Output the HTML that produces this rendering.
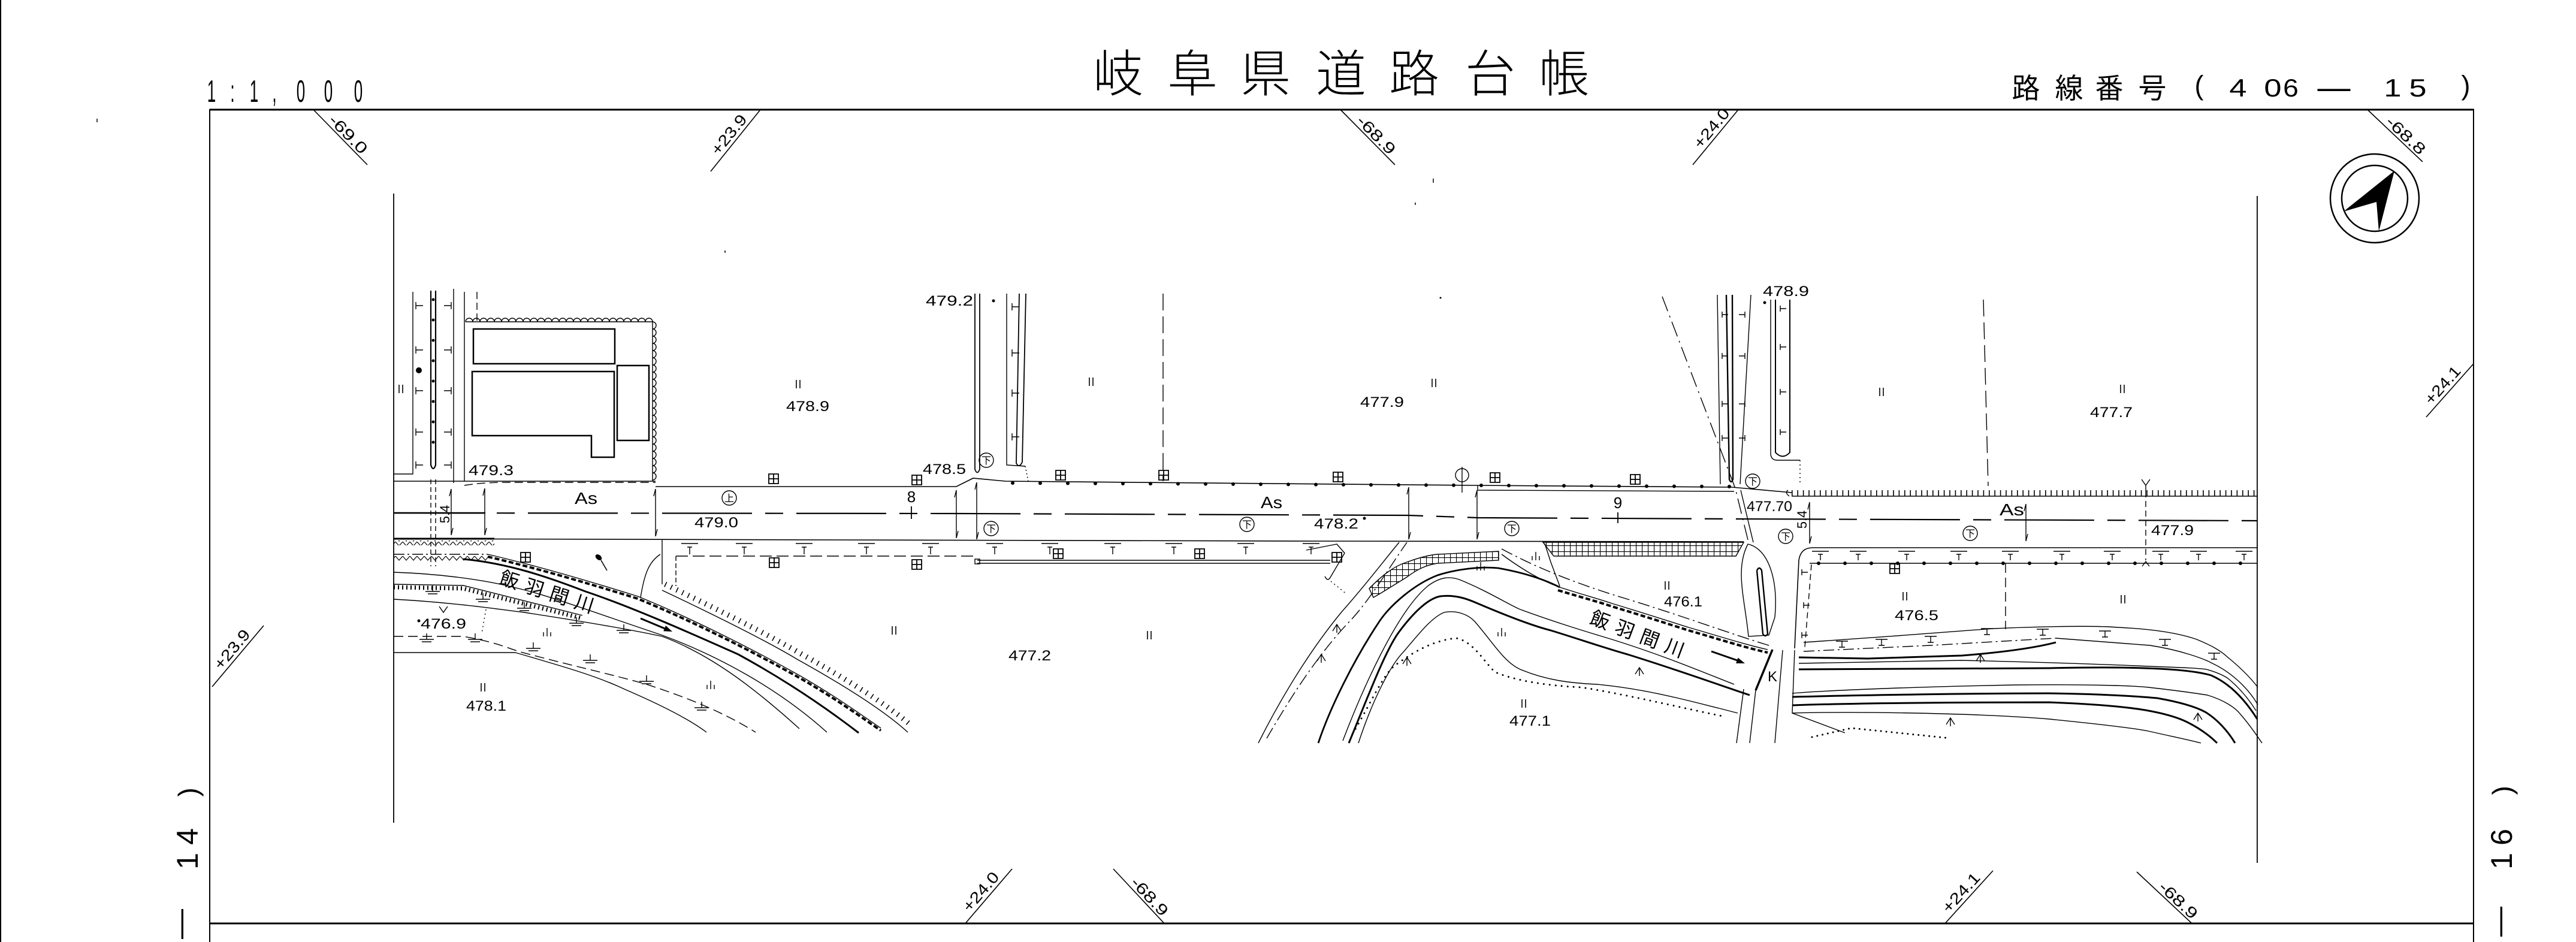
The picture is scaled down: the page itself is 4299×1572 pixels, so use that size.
<!DOCTYPE html>
<html><head><meta charset="utf-8"><title>岐阜県道路台帳</title>
<style>
html,body{margin:0;padding:0;background:#fff;width:4299px;height:1572px;overflow:hidden}
svg{display:block}
text{font-family:"Liberation Sans","Noto Sans CJK JP",sans-serif;fill:#000}
</style></head><body>
<svg xmlns="http://www.w3.org/2000/svg" width="4299" height="1572" viewBox="0 0 4299 1572">
<defs>
<pattern id="grid" patternUnits="userSpaceOnUse" width="10" height="10"><path d="M0,0.5H10M0.5,0V10" stroke="#000" stroke-width="1.2" fill="none"/></pattern>
<pattern id="tri" patternUnits="userSpaceOnUse" width="12" height="8"><path d="M0,0L6,7L12,0" stroke="#000" stroke-width="1.2" fill="none"/></pattern>
</defs>
<rect width="4299" height="1572" fill="#fff"/>

<!-- ===== FRAME ===== -->
<g stroke="#000" fill="none">
<line x1="1" y1="0" x2="1" y2="1572" stroke-width="2"/>
<line x1="350" y1="183" x2="4129" y2="183" stroke-width="3"/>
<line x1="350" y1="1541" x2="4129" y2="1541" stroke-width="3"/>
<line x1="350" y1="182" x2="350" y2="1572" stroke-width="2"/>
<line x1="4128" y1="182" x2="4128" y2="1572" stroke-width="2"/>
<line x1="657" y1="323" x2="657" y2="1373" stroke-width="1.8"/>
<line x1="3767" y1="327" x2="3767" y2="1440" stroke-width="1.8"/>
<path d="M523,183L613,275M1269,183L1186,286M2237,183L2328,275M2901,183L2825,275M3951,183L4043,270" stroke-width="1.6"/>
<path d="M354,1146L440,1044M4128,607L4049,696" stroke-width="1.6"/>
<path d="M1611,1541L1689,1450M1943,1541L1858,1450M3246,1541L3326,1453M3658,1541L3566,1455" stroke-width="1.6"/>
<path d="M162,198v6M2392,298v7M2362,338v4M1210,418v4" stroke-width="1.5"/>
<circle cx="3963" cy="331" r="74" stroke-width="2.5"/>
<circle cx="3963" cy="331" r="55" stroke-width="2.5"/>
</g>
<path d="M3996,285L3911,353L3966,337L3970,386Z" fill="#000"/>

<!-- ===== FRAME TEXT ===== -->
<g font-size="84" text-anchor="middle" font-weight="300">
<text x="1866" y="153">岐</text>
<text x="1990" y="153">阜</text>
<text x="2112" y="153">県</text>
<text x="2238" y="153">道</text>
<text x="2360" y="153">路</text>
<text x="2487" y="153">台</text>
<text x="2610" y="153">帳</text>
</g>
<g font-size="52" text-anchor="middle">
<g transform="translate(353,170) scale(0.5,1)"><text>1</text></g>
<g transform="translate(388,170) scale(0.5,1)"><text>:</text></g>
<g transform="translate(424,170) scale(0.5,1)"><text>1</text></g>
<g transform="translate(458,170) scale(0.5,1)"><text>,</text></g>
<g transform="translate(502,170) scale(0.5,1)"><text>0</text></g>
<g transform="translate(548,170) scale(0.5,1)"><text>0</text></g>
<g transform="translate(598,170) scale(0.5,1)"><text>0</text></g>
</g>
<g text-anchor="middle">
<text x="3381" y="164" font-size="47">路</text>
<text x="3453" y="164" font-size="47">線</text>
<text x="3520" y="164" font-size="47">番</text>
<text x="3592" y="164" font-size="47">号</text>
<text x="3670" y="158" font-size="45">(</text>
<g transform="translate(3735,161) scale(1.25,1)"><text font-size="42">4</text></g>
<g transform="translate(3793,161) scale(1.25,1)"><text font-size="42">0</text></g>
<g transform="translate(3823,161) scale(1.1,1)"><text font-size="42">6</text></g>
<text x="3895" y="164" font-size="55">—</text>
<g transform="translate(3993,161) scale(1.25,1)"><text font-size="42">1</text></g>
<g transform="translate(4035,161) scale(1.25,1)"><text font-size="42">5</text></g>
<text x="4115" y="158" font-size="45">)</text>
</g>
<g transform="translate(308,0) rotate(-90)" text-anchor="middle">
<text x="-1322" y="22" font-size="46">)</text>
<text x="-1396" y="22" font-size="50">4</text>
<text x="-1437" y="22" font-size="50">1</text>
<text x="-1542" y="9" font-size="50">—</text>
</g>
<g transform="translate(4172,0) rotate(-90)" text-anchor="middle">
<text x="-1319" y="20" font-size="46">)</text>
<text x="-1397" y="20" font-size="50">6</text>
<text x="-1437" y="20" font-size="50">1</text>
<text x="-1538" y="15" font-size="50">—</text>
</g>
<g font-size="26">
<text transform="translate(523,183) rotate(45.6)" x="30" y="-4" textLength="80" lengthAdjust="spacingAndGlyphs">-69.0</text>
<text transform="translate(1186,286) rotate(-51.1)" x="28" y="-6" textLength="78" lengthAdjust="spacingAndGlyphs">+23.9</text>
<text transform="translate(2237,183) rotate(45.3)" x="32" y="-4" textLength="80" lengthAdjust="spacingAndGlyphs">-68.9</text>
<text transform="translate(2825,275) rotate(-50.4)" x="28" y="-6" textLength="78" lengthAdjust="spacingAndGlyphs">+24.0</text>
<text transform="translate(3951,183) rotate(43.4)" x="36" y="-4" textLength="80" lengthAdjust="spacingAndGlyphs">-68.8</text>
<text transform="translate(354,1146) rotate(-49.9)" x="30" y="-6" textLength="78" lengthAdjust="spacingAndGlyphs">+23.9</text>
<text transform="translate(4049,696) rotate(-48.4)" x="20" y="-6" textLength="76" lengthAdjust="spacingAndGlyphs">+24.1</text>
<text transform="translate(1611,1541) rotate(-49.4)" x="18" y="-6" textLength="78" lengthAdjust="spacingAndGlyphs">+24.0</text>
<text transform="translate(1858,1450) rotate(47)" x="36" y="-4" textLength="78" lengthAdjust="spacingAndGlyphs">-68.9</text>
<text transform="translate(3246,1541) rotate(-47.7)" x="16" y="-6" textLength="80" lengthAdjust="spacingAndGlyphs">+24.1</text>
<text transform="translate(3566,1455) rotate(43.1)" x="44" y="-4" textLength="78" lengthAdjust="spacingAndGlyphs">-68.9</text>
</g>

<!-- ===== MAP ===== -->
<g stroke="#000" fill="none" stroke-width="1.4">
<path d="M689,487V791H657"/>
<path d="M719,485V776Q723,788 727,776V485" stroke-width="2.2"/>
<path d="M723,500V770" stroke-width="5" stroke-dasharray="0 34" stroke-linecap="round"/>
<path d="M757,482V806"/>
<path d="M775,487V803"/>
<path d="M796,487V535" stroke-dasharray="12 6"/>
<path d="M719,800V945M727,800V945" stroke-dasharray="8 5"/>
<path d="M694,504v12M694,510h12M694,578v12M694,584h12M694,646v12M694,652h12M694,715v12M694,721h12M694,770v12M694,776h12"/>
<path d="M753,504v12M741,510h12M753,578v12M741,584h12M753,646v12M741,652h12M753,715v12M741,721h12M753,770v12M741,776h12"/>
<path d="M777,537H1089V803"/>
<path d="M777,537a6,6 0 0 1 12,0a6,6 0 0 1 12,0a6,6 0 0 1 12,0a6,6 0 0 1 12,0a6,6 0 0 1 12,0a6,6 0 0 1 12,0a6,6 0 0 1 12,0a6,6 0 0 1 12,0a6,6 0 0 1 12,0a6,6 0 0 1 12,0a6,6 0 0 1 12,0a6,6 0 0 1 12,0a6,6 0 0 1 12,0a6,6 0 0 1 12,0a6,6 0 0 1 12,0a6,6 0 0 1 12,0a6,6 0 0 1 12,0a6,6 0 0 1 12,0a6,6 0 0 1 12,0a6,6 0 0 1 12,0a6,6 0 0 1 12,0a6,6 0 0 1 12,0a6,6 0 0 1 12,0a6,6 0 0 1 12,0a6,6 0 0 1 12,0a6,6 0 0 1 12,0"/>
<path d="M1089,537a6,6 0 0 1 0,12a6,6 0 0 1 0,12a6,6 0 0 1 0,12a6,6 0 0 1 0,12a6,6 0 0 1 0,12a6,6 0 0 1 0,12a6,6 0 0 1 0,12a6,6 0 0 1 0,12a6,6 0 0 1 0,12a6,6 0 0 1 0,12a6,6 0 0 1 0,12a6,6 0 0 1 0,12a6,6 0 0 1 0,12a6,6 0 0 1 0,12a6,6 0 0 1 0,12a6,6 0 0 1 0,12a6,6 0 0 1 0,12a6,6 0 0 1 0,12a6,6 0 0 1 0,12a6,6 0 0 1 0,12a6,6 0 0 1 0,12a6,6 0 0 1 0,12"/>
<rect x="790" y="549" width="236" height="58" stroke-width="2.5"/>
<path d="M788,620H1025V763H987V727H788Z" stroke-width="2.5"/>
<rect x="1030" y="610" width="53" height="125" stroke-width="2.5"/>

<path d="M1627,490V783Q1631,794 1635,783V490" stroke-width="1.8"/>
<path d="M1680,490V776L1711,778"/>
<path d="M1711,778L1716,803" stroke-dasharray="2 4"/>
<path d="M1701,490L1696,773Q1701,782 1706,771L1712,490" stroke-width="1.8"/>
<path d="M1689,506v12M1689,512h12M1689,583v12M1689,589h12M1689,650v12M1689,656h12M1689,723v12M1689,729h12"/>
<path d="M1941,490V803" stroke-dasharray="28 10"/>

<path d="M2866,492L2871,808"/>
<path d="M2881,492L2886,800Q2889,808 2892,800L2891,492" stroke-width="2.4"/>
<path d="M2922,492L2904,808"/>
<path d="M2874,520v10M2874,525h10M2874,589v10M2874,594h10M2874,669v10M2874,674h10M2874,726v10M2874,731h10"/>
<path d="M2912,520v10M2902,525h10M2912,589v10M2902,594h10M2912,669v10M2902,674h10M2912,726v10M2902,731h10"/>
<path d="M2774,495L2896,815L2918,905" stroke-dasharray="26 8 3 8"/>
<path d="M2905,818L2926,905"/>
<path d="M2955,500V758Q2956,768 2966,768H3004"/>
<path d="M3004,768V808" stroke-dasharray="2 5"/>
<path d="M2963,500V755Q2975,768 2987,755V500" stroke-width="2"/>
<path d="M2971,510v10M2971,515h10M2971,574v10M2971,579h10M2971,649v10M2971,654h10M2971,716v10M2971,721h10"/>
<path d="M3310,500L3318,811" stroke-dasharray="28 10"/>

<path d="M657,803H1094"/>
<path d="M775,810C800,806 820,805 850,805H1094" stroke-dasharray="14 7"/>
<path d="M1094,812H1596L1624,798L1678,803L2466,810L2890,813L2990,822" stroke-width="1.6"/>
<path d="M2466,810V818L2894,820"/>
<path d="M1690,806L2466,810L2890,812" stroke-width="6" stroke-dasharray="0 46" stroke-linecap="round"/>
<path d="M2990,828H3767" stroke-width="1.6"/>
<path d="M2990,823H3765" stroke-width="10" stroke-dasharray="1.6 7.8"/>
<path d="M2984,818Q2978,822 2986,828"/>
<path d="M3574,800L3581,810L3588,800M3581,810V820"/>
<path d="M3581,820V935" stroke-dasharray="10 6"/>
<path d="M3575,945L3581,937L3587,945"/>
<path d="M657,856L1600,857L2350,860L2466,864L2900,866L3767,869" stroke-width="2.2" stroke-dasharray="150 22 30 22"/>
<path d="M657,856H810" stroke-width="2.6"/>
<path d="M657,899L1400,901L2200,903L2910,904" stroke-width="1.6"/>
<path d="M2995,1082L3002,935Q3005,914 3025,914H3767" stroke-width="1.6"/>
<path d="M753,816V893M753,816l-3,12M753,893l3,-12M809,815V893M809,815l-3,12M809,893l3,-12M1094,816V895M1094,816l-3,12M1094,895l3,-12M1596,818V898M1596,818l-3,12M1596,898l3,-12M1630,805V900M1630,805l-3,12M1630,900l3,-12M2351,813V900M2351,813l-3,12M2351,900l3,-12M2465,818V900M2465,818l-3,12M2465,900l3,-12M3020,838V907M3020,838l-3,12M3020,907l3,-12M3381,841V903M3381,841l-3,12M3381,903l3,-12"/>
<path d="M1521,845V866M2700,855V873" stroke-width="1.8"/>

<path d="M657,899H825" stroke-width="3"/>
<rect x="657" y="902" width="168" height="8" fill="url(#tri)" stroke="none"/>
<rect x="657" y="928" width="157" height="8" fill="url(#tri)" stroke="none"/>
<path d="M657,925H814" stroke-dasharray="18 5 3 5"/>
<path d="M1105,900V975"/>
<path d="M1128,928V978" stroke-dasharray="8 4"/>
<path d="M1069,997C1075,960 1082,938 1102,925"/>
<path d="M1128,928H1625" stroke-dasharray="20 8"/>
<path d="M1631,935H2220M1631,940H2220"/>
<rect x="1627" y="933" width="8" height="8"/>
<path d="M2180,918L2231,908L2244,923L2221,962Q2216,972 2211,962"/>
<path d="M2221,970L2248,992" stroke-dasharray="2 5"/>
<path d="M1137,907h28M1147,913h8M1151,913v12M1228,907h28M1238,913h8M1242,913v12M1328,907h28M1338,913h8M1342,913v12M1432,907h28M1442,913h8M1446,913v12M1539,907h28M1549,913h8M1553,913v12M1646,907h28M1656,913h8M1660,913v12M1738,907h28M1748,913h8M1752,913v12M1843,907h28M1853,913h8M1857,913v12M1945,907h28M1955,913h8M1959,913v12M2065,907h28M2075,913h8M2079,913v12M2174,907h28M2184,913h8M2188,913v12"/>
<path d="M3020,940H3767" stroke-width="1.4"/>
<path d="M3035,940H3767" stroke-width="6" stroke-dasharray="0 44" stroke-linecap="round"/>
<path d="M3023,942L3012,1080" stroke-dasharray="10 6"/>
<path d="M3007,950v10M3007,955h10M3010,1005v10M3010,1010h10M3007,1055v10M3007,1060h10"/>
<path d="M3347,940V1050" stroke-dasharray="16 8"/>
<path d="M3024,920h28M3034,925h8M3038,925v10M3087,920h28M3097,925h8M3101,925v10M3168,920h28M3178,925h8M3182,925v10M3255,920h28M3265,925h8M3269,925v10M3341,920h28M3351,925h8M3355,925v10M3427,920h28M3437,925h8M3441,925v10M3511,920h28M3521,925h8M3525,925v10M3592,920h28M3602,925h8M3606,925v10M3655,920h28M3665,925h8M3669,925v10M3731,920h28M3741,925h8M3745,925v10"/>

<path d="M657,975L773,977L972,1027"/>
<path d="M657,980L773,982L972,1032" stroke-width="7" stroke-dasharray="2 5"/>
<path d="M773,933C850,940 920,965 977,987C1060,1015 1160,1060 1232,1092C1320,1140 1390,1190 1433,1223" stroke-width="3"/>
<path d="M814,925C900,945 1000,975 1064,995C1150,1030 1250,1080 1334,1127C1400,1165 1440,1195 1470,1215"/>
<path d="M814,929C900,949 1000,979 1064,999C1150,1034 1250,1084 1334,1131C1400,1169 1440,1199 1470,1219" stroke-width="4" stroke-dasharray="8 4"/>
<path d="M1105,985C1200,1030 1280,1070 1330,1100C1420,1150 1480,1190 1515,1222"/>
<path d="M1110,975C1200,1018 1280,1058 1335,1090C1425,1140 1485,1180 1520,1210" stroke-width="9" stroke-dasharray="1.6 9"/>
<path d="M657,955C720,957 800,965 865,982C920,995 1000,1025 1105,1060C1200,1095 1300,1150 1380,1222"/>
<path d="M657,1000C750,1005 820,1015 875,1022C960,1035 1040,1048 1105,1062"/>
<path d="M1105,1062C1180,1090 1250,1140 1334,1216"/>
<path d="M657,1062L773,1062C820,1070 845,1080 865,1087C950,1110 1020,1125 1079,1142C1150,1165 1210,1190 1261,1222" stroke-dasharray="16 8"/>
<path d="M657,1089L860,1089C950,1115 1000,1130 1042,1150C1100,1175 1150,1200 1179,1222"/>
<path d="M811,1017L804,1057" stroke-dasharray="2 5"/>
<path d="M733,1012L740,1022L747,1012"/>
<path d="M710,987h24M714,991h16M722,987v-10M794,1000h24M798,1004h16M806,1000v-10M863,1015h24M867,1019h16M875,1015v-10M950,1040h24M954,1044h16M962,1040v-10M1029,1052h24M1033,1056h16M1041,1052v-10M700,1067h24M704,1071h16M712,1067v-10M781,1067h24M785,1071h16M793,1067v-10M878,1082h24M882,1086h16M890,1082v-10M973,1102h24M977,1106h16M985,1102v-10M1067,1137h24M1071,1141h16M1079,1137v-10M1159,1181h24M1163,1185h16M1171,1181v-10"/>

<path d="M2114,1232C2150,1170 2200,1090 2257,1032C2290,995 2320,945 2348,905" stroke-dasharray="20 6 3 6"/>
<path d="M2100,1240C2140,1160 2190,1080 2240,1020C2280,975 2310,935 2335,905"/>
<path d="M2200,1240C2220,1180 2260,1100 2302,1037C2320,1010 2360,975 2399,960C2430,950 2470,945 2500,948C2540,955 2575,966 2603,980" stroke-width="2.8"/>
<path d="M2241,1236C2270,1160 2330,1020 2384,977C2405,962 2420,962 2435,967C2480,985 2520,1010 2537,1017C2600,1040 2650,1055 2690,1067C2780,1095 2850,1125 2894,1142"/>
<path d="M2251,1240C2280,1170 2310,1090 2333,1057C2360,1020 2385,998 2404,995C2430,992 2450,1000 2466,1007C2520,1030 2560,1045 2588,1052C2640,1068 2680,1082 2716,1092C2800,1118 2860,1140 2920,1160" stroke-width="3"/>
<path d="M2267,1240C2290,1170 2320,1110 2343,1087C2370,1055 2390,1030 2410,1022C2430,1018 2450,1025 2461,1037C2490,1070 2510,1105 2537,1117C2580,1135 2620,1140 2665,1142C2750,1150 2820,1170 2869,1182L2900,1190"/>
<path d="M2257,1225C2290,1170 2310,1120 2333,1107C2370,1080 2400,1068 2430,1065C2460,1070 2480,1110 2496,1122C2540,1140 2600,1145 2639,1147C2720,1160 2800,1180 2879,1196" stroke-width="3" stroke-dasharray="0 10" stroke-linecap="round"/>
<path d="M2285,982C2305,962 2325,945 2348,938C2370,930 2385,926 2399,925L2501,920L2501,935L2399,940C2380,943 2365,950 2348,963C2320,980 2305,990 2292,997Z" fill="url(#grid)"/>
<path d="M2575,905L2910,905L2897,928L2593,928Z" fill="url(#grid)"/>
<path d="M2578,907L2588,938L2603,978"/>
<path d="M2506,925C2540,950 2570,968 2603,980C2640,992 2670,1000 2690,1007C2740,1022 2780,1035 2818,1047C2870,1062 2910,1075 2950,1084"/>
<path d="M2600,985C2640,997 2670,1005 2690,1012C2740,1027 2780,1040 2818,1052C2870,1067 2910,1080 2950,1089" stroke-width="4" stroke-dasharray="8 4"/>
<path d="M2506,916C2560,945 2620,970 2700,995C2800,1025 2880,1055 2955,1078" stroke-dasharray="20 6 3 6"/>
<path d="M2917,908C2950,915 2968,965 2962,1030L2952,1060L2918,1062C2912,1000 2895,950 2917,908Z"/>
<path d="M2932,952L2942,1058Q2946,1064 2950,1058L2940,952Q2936,944 2932,952" stroke-width="2.4"/>
<path d="M2958,1084L2930,1152" stroke-width="3.5"/>
<path d="M2930,1152L2920,1240M2910,1150L2898,1240M2975,1085L2962,1240"/>
<path d="M2995,1085L2991,1190L3079,1223"/>

<path d="M3010,1072C3100,1066 3250,1055 3326,1049C3420,1045 3500,1044 3535,1047C3600,1050 3640,1058 3666,1067C3690,1077 3705,1085 3718,1097C3740,1115 3755,1130 3768,1147"/>
<path d="M3010,1087L3222,1077L3431,1065" stroke-dasharray="18 6 3 6"/>
<path d="M3431,1065C3500,1070 3560,1075 3588,1077C3640,1085 3680,1100 3692,1107C3720,1120 3750,1145 3768,1176"/>
<path d="M3002,1097L3117,1099L3274,1094C3350,1088 3400,1080 3431,1072" stroke-width="3"/>
<path d="M3002,1107L3274,1102C3400,1105 3500,1108 3588,1112C3640,1114 3670,1115 3682,1117C3700,1122 3712,1128 3718,1132C3740,1150 3755,1170 3765,1186"/>
<path d="M3002,1117L3420,1115C3550,1112 3650,1115 3690,1127C3720,1140 3745,1165 3767,1200" stroke-width="3"/>
<path d="M2991,1157C3050,1152 3200,1146 3365,1143C3480,1142 3560,1144 3585,1147C3630,1152 3665,1157 3684,1160C3710,1168 3730,1180 3739,1192C3755,1210 3768,1230 3775,1240"/>
<path d="M2991,1163C3100,1160 3300,1157 3420,1157C3500,1158 3570,1162 3600,1165C3640,1172 3665,1180 3680,1188C3700,1200 3718,1220 3730,1240" stroke-width="3"/>
<path d="M2991,1177C3100,1173 3300,1172 3420,1172C3500,1175 3550,1180 3580,1185C3620,1192 3640,1200 3650,1205C3670,1215 3688,1228 3700,1240" stroke-width="3"/>
<path d="M2991,1190C3100,1187 3300,1190 3420,1200C3500,1208 3560,1215 3585,1220C3620,1228 3650,1234 3673,1240"/>
<path d="M3024,1230L3090,1215L3255,1232" stroke-width="3" stroke-dasharray="0 9" stroke-linecap="round"/>
<path d="M3064,1070h20M3074,1070v10M3069,1080h10M3130,1067h20M3140,1067v10M3135,1077h10M3212,1062h20M3222,1062v10M3217,1072h10M3306,1049h20M3316,1049v10M3311,1059h10M3399,1050h20M3409,1050v10M3404,1060h10M3503,1053h20M3513,1053v10M3508,1063h10M3603,1067h20M3613,1067v10M3608,1077h10M3685,1090h20M3695,1090v10M3690,1100h10"/>

<path d="M869,922h16v16h-16zM877,922v16M869,930h16M1283,791h16v16h-16zM1291,791v16M1283,799h16M1284,931h16v16h-16zM1292,931v16M1284,939h16M1522,793h16v16h-16zM1530,793v16M1522,801h16M1522,934h16v16h-16zM1530,934v16M1522,942h16M1762,785h16v16h-16zM1770,785v16M1762,793h16M1758,916h16v16h-16zM1766,916v16M1758,924h16M1934,785h16v16h-16zM1942,785v16M1934,793h16M1994,916h16v16h-16zM2002,916v16M1994,924h16M2225,788h16v16h-16zM2233,788v16M2225,796h16M2223,922h16v16h-16zM2231,922v16M2223,930h16M2487,789h16v16h-16zM2495,789v16M2487,797h16M2721,792h16v16h-16zM2729,792v16M2721,800h16M3154,941h16v16h-16zM3162,941v16M3154,949h16" stroke-width="1.8"/>
<path d="M666,642v14M672,642v14M1329,634v14M1335,634v14M1818,630v14M1824,630v14M1489,1045v14M1495,1045v14M1915,1053v14M1921,1053v14M2390,632v14M2396,632v14M2779,970v14M2785,970v14M2540,1167v14M2546,1167v14M3137,647v14M3143,647v14M3539,642v14M3545,642v14M3176,988v14M3182,988v14M3540,993v14M3546,993v14M803,1140v14M809,1140v14" stroke-width="1.6"/>
<path d="M907,1062v-7M913,1062v-14M919,1062v-7M1180,1150v-7M1186,1150v-14M1192,1150v-7M2557,935v-7M2563,935v-14M2569,935v-7M2465,952v-7M2471,952v-14M2477,952v-7M2500,1062v-7M2506,1062v-14M2512,1062v-7"/>
<path d="M2341,1108L2348,1097L2355,1108M2348,1097v14M2729,1125L2736,1114L2743,1125M2736,1114v14M3248,1209L3255,1198L3262,1209M3255,1198v14M3661,1201L3668,1190L3675,1201M3668,1190v14M3298,1103L3305,1092L3312,1103M3305,1092v14M2224,1053L2231,1042L2238,1053M2231,1042v14M2198,1103L2205,1092L2212,1103M2205,1092v14"/>
<circle cx="1217" cy="831" r="12"/>
<circle cx="1646" cy="768" r="12"/>
<circle cx="1654" cy="882" r="12"/>
<circle cx="2081" cy="875" r="12"/>
<circle cx="2523" cy="882" r="12"/>
<circle cx="2925" cy="803" r="12"/>
<circle cx="2980" cy="895" r="12"/>
<circle cx="3288" cy="890" r="12"/>
<circle cx="2440" cy="793" r="11"/>
<path d="M2440,779V822"/>
<path d="M1003,935L1013,952" stroke-width="1.6"/>
<path d="M1069,1032L1112,1050M2856,1087L2902,1103" stroke-width="3"/>
</g>
<ellipse cx="999" cy="930" rx="6" ry="4" transform="rotate(40 999 930)" fill="#000"/>
<path d="M1122,1054L1107.2,1053.2L1111,1044Z" fill="#000"/>
<path d="M2912,1107L2897.1,1107L2900.5,1097.6Z" fill="#000"/>
<g fill="#000">
<circle cx="699" cy="618" r="5"/>
<circle cx="1658" cy="502" r="2.5"/>
<circle cx="2277" cy="865" r="2.5"/>
<circle cx="2945" cy="505" r="2.5"/>
<circle cx="699" cy="1036" r="2.5"/>
<circle cx="2404" cy="497" r="1.5"/>
</g>
<g font-size="16" text-anchor="middle">
<text x="1217" y="837">上</text>
<text x="1646" y="774">下</text>
<text x="1654" y="888">下</text>
<text x="2081" y="881">下</text>
<text x="2523" y="888">下</text>
<text x="2925" y="809">下</text>
<text x="2980" y="901">下</text>
<text x="3288" y="896">下</text>
</g>

<g font-size="24">
<text x="782" y="793" textLength="75" lengthAdjust="spacingAndGlyphs">479.3</text>
<text x="1312" y="686" textLength="72" lengthAdjust="spacingAndGlyphs">478.9</text>
<text x="1159" y="880" textLength="73" lengthAdjust="spacingAndGlyphs">479.0</text>
<text x="1545" y="510" textLength="79" lengthAdjust="spacingAndGlyphs">479.2</text>
<text x="1540" y="791" textLength="72" lengthAdjust="spacingAndGlyphs">478.5</text>
<text x="1683" y="1102" textLength="71" lengthAdjust="spacingAndGlyphs">477.2</text>
<text x="2270" y="679" textLength="73" lengthAdjust="spacingAndGlyphs">477.9</text>
<text x="2193" y="882" textLength="74" lengthAdjust="spacingAndGlyphs">478.2</text>
<text x="2915" y="853" textLength="76" lengthAdjust="spacingAndGlyphs">477.70</text>
<text x="2942" y="494" textLength="77" lengthAdjust="spacingAndGlyphs">478.9</text>
<text x="2777" y="1012" textLength="64" lengthAdjust="spacingAndGlyphs">476.1</text>
<text x="2519" y="1211" textLength="69" lengthAdjust="spacingAndGlyphs">477.1</text>
<text x="3488" y="696" textLength="71" lengthAdjust="spacingAndGlyphs">477.7</text>
<text x="3590" y="893" textLength="71" lengthAdjust="spacingAndGlyphs">477.9</text>
<text x="3162" y="1035" textLength="73" lengthAdjust="spacingAndGlyphs">476.5</text>
<text x="702" y="1049" textLength="76" lengthAdjust="spacingAndGlyphs">476.9</text>
<text x="778" y="1186" textLength="67" lengthAdjust="spacingAndGlyphs">478.1</text>
<text x="1521" y="838" font-size="26" text-anchor="middle">8</text>
<text x="2700" y="848" font-size="26" text-anchor="middle">9</text>
<text x="2958" y="1137" text-anchor="middle">K</text>
</g>
<g font-size="28">
<text x="959" y="841" textLength="38" lengthAdjust="spacingAndGlyphs">As</text>
<text x="2104" y="848" textLength="36" lengthAdjust="spacingAndGlyphs">As</text>
<text x="3337" y="860" textLength="41" lengthAdjust="spacingAndGlyphs">As</text>
</g>
<g font-size="22" text-anchor="middle">
<text transform="translate(750,858) rotate(-90)">5.4</text>
<text transform="translate(3015,867) rotate(-90)">5.4</text>
</g>
<g font-size="32">
<text transform="translate(850,968) rotate(17.7)" x="-16" y="11" textLength="163" lengthAdjust="spacing">飯羽間川</text>
<text transform="translate(2670,1035) rotate(20.6)" x="-16" y="11" textLength="165" lengthAdjust="spacing">飯羽間川</text>
</g>
</svg>
</body></html>
